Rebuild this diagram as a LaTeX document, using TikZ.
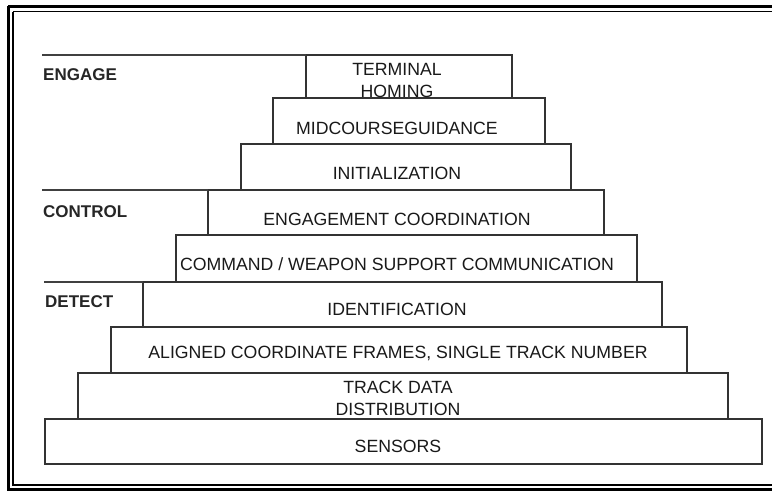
\documentclass[tikz,border=0pt]{standalone}
\usepackage{fontspec}
\setmainfont{Liberation Sans}
\usetikzlibrary{positioning}

\begin{document}
\begin{tikzpicture}[
x=1pt, y=-1pt,
layer/.style={draw=black!80, line width=1.6pt, inner sep=0pt, outer sep=0pt},
txt/.style={text=black!90, font=\fontsize{17.7}{22}\selectfont, inner sep=0pt, align=center},
lvl/.style={text=black!85, font=\bfseries\fontsize{17}{22}\selectfont, inner sep=0pt, anchor=base west},
sep/.style={draw=black!75, line width=1.4pt}
]
\useasboundingbox (0,0) rectangle (772,491);
% frame
\draw[line width=3pt] (8,6) -- (780,6);
\draw[line width=3pt] (8,6) -- (8,489) -- (780,489);
\draw[line width=1.4pt] (13,11.5) -- (780,11.5);
\draw[line width=1.4pt] (13,11.5) -- (13,485) -- (780,485);
% layers
\node[layer, minimum width=717, minimum height=45] (sens) at (403.5,441.5) {};
\node[layer, minimum width=650, minimum height=46] (track) at (403,396) {};
\node[layer, minimum width=576, minimum height=46] (align) at (399,350) {};
\node[layer, minimum width=519, minimum height=45] (ident) at (402.5,304.5) {};
\node[layer, minimum width=461, minimum height=47] (cmd) at (406.5,258.5) {};
\node[layer, minimum width=396, minimum height=45] (coord) at (406,212.5) {};
\node[layer, minimum width=330, minimum height=46] (init) at (406,167) {};
\node[layer, minimum width=272, minimum height=46] (mid) at (409,121) {};
\node[layer, minimum width=206, minimum height=43] (term) at (409,76.5) {};
% texts
\node[txt] (term-t) at (397,80) {TERMINAL\\HOMING};
\node[txt, anchor=base] (mid-t) at (397,134) {MIDCOURSEGUIDANCE};
\node[txt, anchor=base] (init-t) at (397,179) {INITIALIZATION};
\node[txt, anchor=base] (coord-t) at (397,225) {ENGAGEMENT COORDINATION};
\node[txt, anchor=base] (cmd-t) at (397,270) {COMMAND / WEAPON SUPPORT COMMUNICATION};
\node[txt, anchor=base] (ident-t) at (397,315) {IDENTIFICATION};
\node[txt, anchor=base] (align-t) at (398,358) {ALIGNED COORDINATE FRAMES, SINGLE TRACK NUMBER};
\node[txt] (track-t) at (398,398.5) {TRACK DATA\\DISTRIBUTION};
\node[txt, anchor=base] (sens-t) at (398,452) {SENSORS};
% levels
\coordinate (engage-l) at (42,55);
\coordinate (control-l) at (42,190);
\coordinate (detect-l) at (44,282);
\draw[sep] (engage-l) -- (term.north west);
\draw[sep] (control-l) -- (coord.north west);
\draw[sep] (detect-l) -- (ident.north west);
\node[lvl] (engage) at (43,80) {ENGAGE};
\node[lvl] (control) at (43,217) {CONTROL};
\node[lvl] (detect) at (45,307) {DETECT};
\end{tikzpicture}
\end{document}
